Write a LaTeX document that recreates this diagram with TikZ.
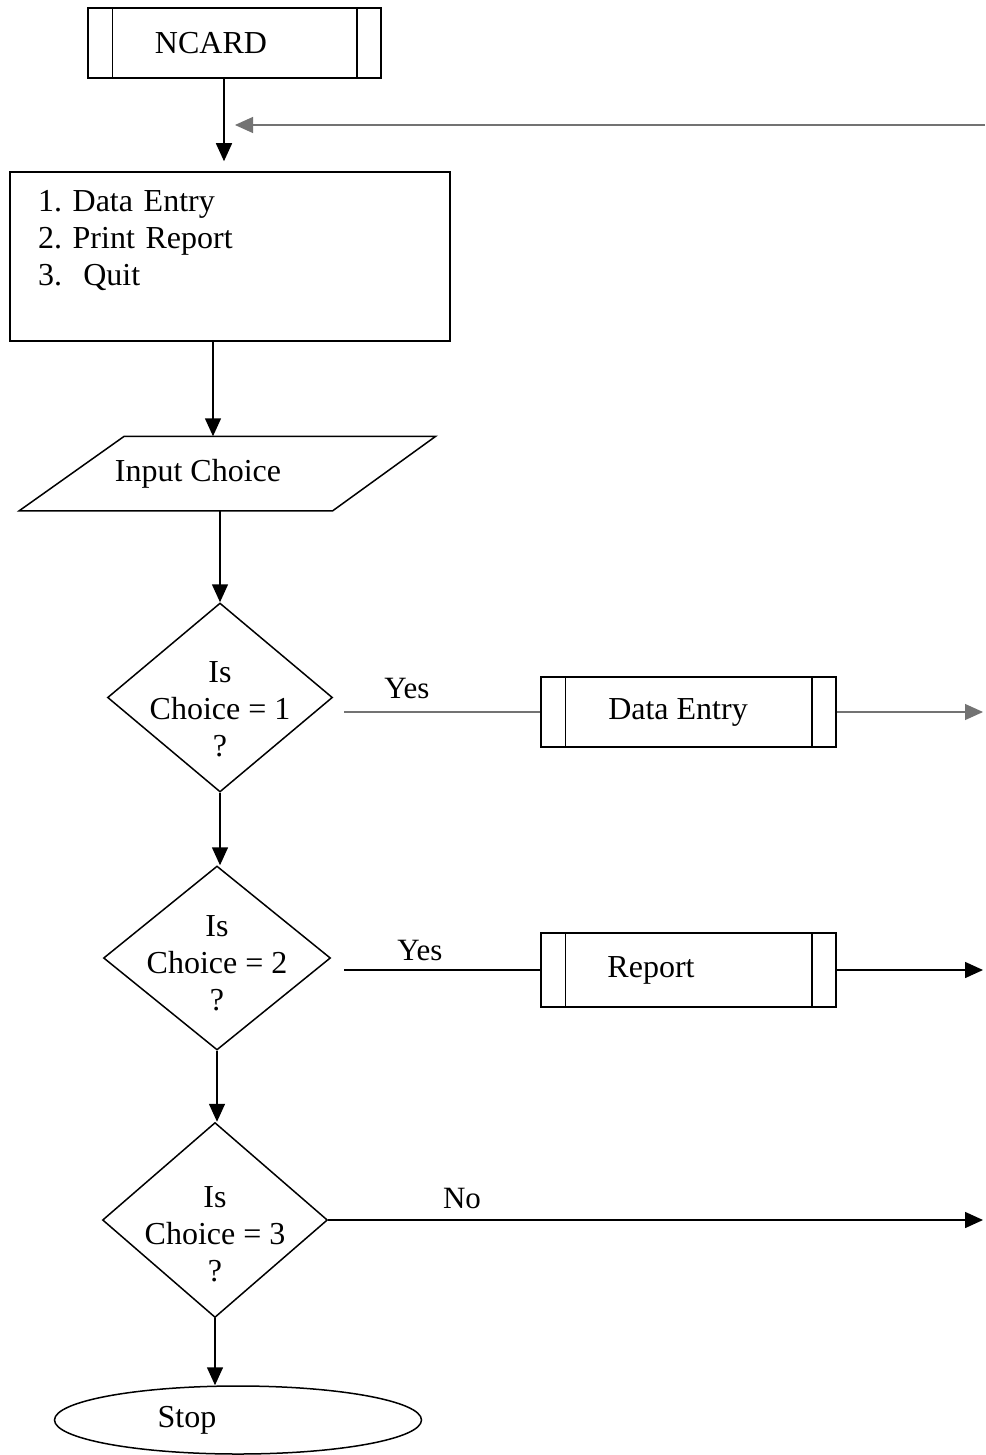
\documentclass[tikz,border=0pt]{standalone}
\usepackage{fontspec}
\setmainfont{Liberation Serif}
\usetikzlibrary{arrows.meta,shapes.geometric}
\frenchspacing
\tikzset{
  base/.style={line width=1.5pt, draw=black, inner sep=0pt, font=\fontsize{32}{37}\selectfont},
  subbox/.style={base, rectangle},
  menubox/.style={base, rectangle, align=left, text width=384pt, inner xsep=28pt},
  iobox/.style={base, rectangle, draw=none},
  decision/.style={base, diamond},
  dtext/.style={inner sep=0pt, align=center, font=\fontsize{32}{37}\selectfont},
  term/.style={base, ellipse},
  lbl/.style={inner sep=0pt, font=\fontsize{31}{36}\selectfont},
  arr/.style={line width=1.5pt, -{Triangle[length=18pt,width=16pt]}},
  faint/.style={draw=black!55, line width=1.1pt},
  plain/.style={line width=1.5pt}
}
\begin{document}
\begin{tikzpicture}[x=1pt,y=-1pt]
\useasboundingbox[fill=white] (0,0) rectangle (985,1455);

% nodes
\node[subbox, minimum width=293pt, minimum height=70pt] (ncard) at (234.5,43) {NCARD\kern47pt};
\node[menubox, minimum width=440pt, minimum height=169pt] (menu) at (230,256.5)
  {1. Data Entry\\2. Print Report\\3.\ \ Quit\\\mbox{}};
\node[iobox, minimum width=415pt, minimum height=73pt] (input) at (227.5,473.5) {Input Choice\kern59pt};
\draw[plain] (input.south west) -- ([xshift=105pt]input.north west) -- (input.north east)
  -- ([xshift=-103pt]input.south east) -- cycle;
\node[decision, minimum width=225pt, minimum height=189pt,
  label={[dtext, yshift=-12pt]center:Is\\Choice = 1\\?}] (d1) at (220,697.5) {};
\node[subbox, minimum width=295pt, minimum height=70pt] (de) at (688.5,712) {Data Entry\kern21pt};
\node[decision, minimum width=227pt, minimum height=184pt,
  label={[dtext, yshift=-5pt]center:Is\\Choice = 2\\?}] (d2) at (217,958) {};
\node[subbox, minimum width=295pt, minimum height=74pt] (rep) at (688.5,970) {Report\kern75pt};
\node[decision, minimum width=225pt, minimum height=195pt,
  label={[dtext, yshift=-14pt]center:Is\\Choice = 3\\?}] (d3) at (215,1220) {};
\node[term, minimum width=367pt, minimum height=68pt] (stop) at (238,1420) {Stop\kern102pt};

% inner lines of predefined-process boxes
\foreach \n in {ncard,de,rep}{
  \draw[plain] ([xshift=25pt]\n.north west) -- ([xshift=25pt]\n.south west);
  \draw[plain] ([xshift=-25pt]\n.north east) -- ([xshift=-25pt]\n.south east);
}

% labels
\node[lbl] (yes1) at (407,688) {Yes};
\node[lbl] (yes2) at (420,950) {Yes};
\node[lbl] (no3) at (462,1198) {No};

% free ends
\coordinate (retstart) at (985,125);
\coordinate (retend) at (235,125);
\coordinate (out1) at (983,712);
\coordinate (out2) at (983,970);
\coordinate (out3) at (983,1220);

% connectors
\draw[arr, shorten >=10pt] ([xshift=-10.5pt]ncard.south) -- ([xshift=-10.5pt]ncard.south |- menu.north);
\draw[arr, draw=black!55, line width=1.1pt] (retstart) -- (retend);
\draw[arr] ([xshift=-17pt]menu.south) -- ([xshift=-17pt]menu.south |- input.north);
\draw[arr] (d1.north |- input.south) -- (d1.north);
\draw[arr] (d1.south) -- (d1.south |- d2.north);
\draw[arr] (d2.south) -- (d2.south |- d3.north);
\draw[arr] (d3.south) -- (d3.south |- stop.north);

\draw[faint] ([xshift=11pt]d1.east |- de.west) -- (de.west);
\draw[arr, draw=black!55, line width=1.1pt] (de.east) -- (out1);
\draw[plain] ([xshift=13pt]d2.east |- rep.west) -- (rep.west);
\draw[arr] (rep.east) -- (out2);
\draw[arr] (d3.east) -- (out3);
\end{tikzpicture}
\end{document}
